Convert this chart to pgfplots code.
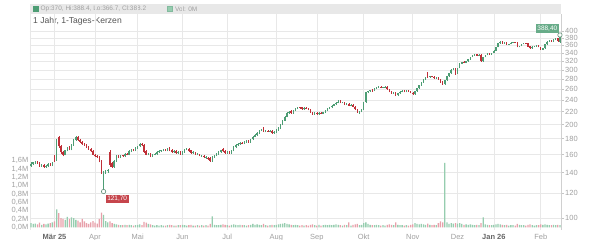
\documentclass[border=0pt]{standalone}
\usepackage{fontspec}
\setmainfont{Liberation Sans}
\usepackage{pgfplots}
\pgfplotsset{compat=1.18}
\usepackage{pgfplotstable}
\definecolor{cup}{RGB}{77,157,116}
\definecolor{cdn}{RGB}{192,48,56}
\definecolor{vup}{RGB}{150,205,175}
\definecolor{vdn}{RGB}{232,160,170}
\definecolor{gridc}{RGB}{232,232,232}
\definecolor{tickc}{RGB}{160,160,160}
\definecolor{bandc}{RGB}{232,232,232}
\definecolor{titc}{RGB}{85,85,85}
\pgfplotstableread{
i o h l c v
0 147 151 146 149 0.10
1 149 152 148 151 0.08
2 151 153 149 152 0.09
3 152 153 149 150 0.07
4 150 151 146 147 0.11
5 147 149 146 148 0.06
6 148 149 145 146 0.08
7 146 148 145 147 0.07
8 147 150 146 149 0.09
9 149 150 147 148 0.10
10 148 151 147 150 0.12
11 158 160 152 153 0.14
12 154 179 153 178 0.43
13 182 184 168 170 0.34
14 170 172 161 163 0.22
15 163 164 158 160 0.20
16 160 166 159 165 0.18
17 165 169 164 168 0.25
18 170 171 165 166 0.20
19 166 173 165 172 0.24
20 172 179 171 178 0.22
21 178 184 177 182 0.18
22 183 184 177 178 0.16
23 178 179 175 176 0.12
24 176 177 172 173 0.20
25 173 174 171 172 0.14
26 172 173 168 169 0.10
27 169 170 166 167 0.08
28 167 168 163 164 0.12
29 164 165 159 160 0.15
30 160 161 157 158 0.11
31 158 160 156 157 0.09
32 157 158 151 152 0.20
33 153 154 139 140 0.35
34 134 142 121.7 140 0.30
35 140 143 139 142 0.15
36 142 144 140 143 0.12
37 163 165 146 148 0.14
38 150 151 145 146 0.10
39 146 154 145 153 0.08
40 153 159 152 158 0.07
41 158 159 156 157 0.06
42 157 160 156 159 0.05
43 159 160 157 158 0.05
44 158 162 157 161 0.06
45 161 162 159 160 0.05
46 160 165 159 164 0.06
47 164 167 163 166 0.05
48 166 167 164 165 0.04
49 165 169 164 168 0.05
50 168 171 167 170 0.06
51 170 174 169 173 0.07
52 173 174 171 172 0.05
53 172 173 162 163 0.13
54 164 165 159 160 0.11
55 160 162 159 161 0.08
56 161 162 157 158 0.07
57 158 161 157 160 0.05
58 160 162 159 161 0.04
59 161 164 160 163 0.05
60 163 165 162 164 0.04
61 164 166 163 165 0.05
62 165 167 164 166 0.04
63 166 167 164 165 0.04
64 165 168 164 167 0.05
65 168 169 164 165 0.06
66 166 167 162 163 0.05
67 163 165 162 164 0.04
68 164 165 161 162 0.04
69 162 164 161 163 0.05
70 163 164 160 161 0.05
71 161 164 160 163 0.06
72 163 167 162 166 0.05
73 166 168 165 167 0.04
74 167 168 163 164 0.05
75 165 166 161 162 0.06
76 162 164 161 163 0.04
77 162 163 160 161 0.04
78 160 162 159 161 0.05
79 160 161 158 159 0.04
80 158 160 157 159 0.05
81 158 159 156 157 0.04
82 156 158 155 157 0.05
83 156 157 154 155 0.04
84 156 157 152 153 0.08
85 153 158 152 157 0.26
86 157 160 156 159 0.06
87 159 162 158 161 0.05
88 161 164 160 163 0.05
89 163 166 162 165 0.06
90 167 168 163 164 0.07
91 164 165 161 162 0.06
92 162 164 161 163 0.05
93 163 164 161 162 0.04
94 162 166 161 165 0.06
95 165 170 164 169 0.07
96 169 173 168 172 0.06
97 172 174 171 173 0.05
98 173 176 172 175 0.06
99 175 176 173 174 0.05
100 174 177 173 176 0.05
101 176 178 175 177 0.04
102 177 178 175 176 0.05
103 176 180 175 179 0.06
104 179 184 178 183 0.08
105 183 186 182 185 0.06
106 185 189 184 188 0.07
107 188 192 187 191 0.06
108 191 194 190 193 0.05
109 195 197 189 190 0.08
110 190 192 189 191 0.05
111 191 192 189 190 0.04
112 190 192 189 191 0.05
113 191 192 187 188 0.06
114 188 190 187 189 0.05
115 189 193 188 192 0.06
116 192 196 191 195 0.07
117 195 201 194 200 0.08
118 200 207 199 206 0.09
119 206 213 205 212 0.10
120 212 219 211 218 0.08
121 218 221 216 220 0.07
122 221 222 217 218 0.06
123 218 223 217 222 0.05
124 222 226 221 225 0.06
125 225 228 224 227 0.05
126 227 228 225 226 0.04
127 227 228 223 224 0.05
128 224 227 223 226 0.04
129 226 227 224 225 0.05
130 225 226 222 223 0.04
131 224 225 218 219 0.06
132 219 220 215 216 0.07
133 216 219 215 218 0.05
134 218 219 215 216 0.04
135 216 219 215 218 0.06
136 218 219 216 217 0.04
137 217 220 216 219 0.05
138 219 223 218 222 0.06
139 222 226 221 225 0.05
140 225 228 224 227 0.06
141 227 231 226 230 0.05
142 230 233 229 232 0.06
143 232 236 231 235 0.07
144 235 239 234 237 0.06
145 238 239 234 235 0.05
146 235 237 234 236 0.04
147 236 237 231 232 0.06
148 232 234 231 233 0.05
149 233 234 229 230 0.12
150 230 232 229 231 0.04
151 231 232 227 228 0.06
152 228 229 223 224 0.07
153 224 225 218 219 0.08
154 219 221 217 220 0.05
155 220 225 219 224 0.06
156 224 237 223 236 0.10
157 236 255 235 254 0.12
158 254 257 252 256 0.08
159 256 259 255 258 0.06
160 259 260 255 257 0.05
161 257 262 256 261 0.05
162 261 264 260 263 0.06
163 263 266 262 265 0.05
164 265 266 262 263 0.04
165 263 265 262 264 0.05
166 264 267 263 265 0.04
167 265 266 259 260 0.06
168 260 261 254 255 0.07
169 255 256 251 252 0.06
170 252 255 251 254 0.05
171 254 255 247 248 0.12
172 248 253 247 252 0.06
173 252 256 251 255 0.05
174 255 258 254 257 0.05
175 257 258 254 255 0.04
176 255 259 254 258 0.05
177 258 259 255 256 0.04
178 256 257 252 253 0.06
179 253 254 249 250 0.07
180 250 257 249 256 0.10
181 256 263 255 262 0.08
182 262 269 261 268 0.07
183 268 275 267 274 0.08
184 274 280 273 279 0.07
185 279 284 278 283 0.06
186 290 296 283 284 0.09
187 284 287 283 286 0.06
188 286 287 284 285 0.05
189 285 286 281 282 0.06
190 282 284 281 283 0.05
191 283 284 279 280 0.10
192 280 281 273 274 0.14
193 276 277 269 270 0.12
194 270 279 269 278 1.55
195 278 287 277 286 0.12
196 286 293 285 292 0.08
197 292 301 291 300 0.10
198 300 303 299 301 0.09
199 302 304 289 290 0.10
200 292 305 291 304 0.09
201 304 315 303 314 0.10
202 314 319 313 318 0.08
203 318 320 315 316 0.06
204 316 321 315 320 0.07
205 320 325 319 324 0.06
206 324 331 323 330 0.07
207 330 336 329 335 0.06
208 335 338 334 336 0.05
209 337 338 332 333 0.06
210 333 337 332 336 0.05
211 336 337 318 320 0.10
212 320 331 319 330 0.24
213 330 336 329 335 0.07
214 335 339 334 338 0.06
215 338 339 335 336 0.05
216 336 341 335 340 0.05
217 340 347 339 346 0.06
218 346 356 345 355 0.07
219 355 366 354 365 0.08
220 365 372 364 370 0.07
221 370 371 364 365 0.06
222 365 368 364 367 0.05
223 367 368 361 362 0.06
224 362 364 361 363 0.04
225 363 368 362 367 0.05
226 367 370 366 369 0.05
227 369 370 366 367 0.04
228 368 369 354 355 0.08
229 355 359 354 358 0.06
230 358 364 357 363 0.05
231 363 367 362 366 0.05
232 366 367 364 365 0.04
233 365 366 355 356 0.06
234 357 358 351 352 0.07
235 352 357 351 356 0.05
236 356 358 355 357 0.04
237 357 361 356 360 0.05
238 360 361 354 355 0.05
239 355 356 347 348 0.07
240 348 353 347 352 0.06
241 352 363 351 362 0.07
242 362 371 361 370 0.06
243 370 374 369 373 0.05
244 374 375 369 370 0.05
245 370 377 369 376 0.06
246 376 381 375 380 0.05
247 380 381 370 371 0.06
248 370 388.4 366.7 388.2 0.05
}\ohlc
\begin{document}
\begin{tikzpicture}
\useasboundingbox (0bp,0bp) rectangle (600bp,240bp);
\fill[white] (0bp,0bp) rectangle (600bp,240bp);
\fill[bandc] (30bp,226bp) rectangle (561bp,236bp);
\fill[cup] (33bp,228.2bp) rectangle (38.5bp,233.7bp);
\node[anchor=west, inner sep=0pt, text=tickc, font=\fontsize{6.5}{7}\selectfont] at (40.5bp,231bp) {Op:370, Hi:388.4, Lo:366.7, Cl:388.2};
\filldraw[fill=vup, draw=cup!70, line width=0.4bp] (167.5bp,228.5bp) rectangle (172.5bp,233.5bp);
\node[anchor=west, inner sep=0pt, text=tickc, font=\fontsize{6.5}{7}\selectfont] at (175bp,231bp) {Vol: 0M};
\node[anchor=west, inner sep=0pt, text=titc, font=\fontsize{8.6}{10}\selectfont] at (33bp,219bp) {1 Jahr, 1-Tages-Kerzen};
% price axis
\begin{axis}[at={(30bp,10bp)}, anchor=south west, scale only axis,
  width=531bp, height=226bp,
  xmin=-0.5, xmax=248.5, ymode=log, ymin=91.5, ymax=488.7,
  axis line style={draw=none},
  grid=major, grid style={gridc, line width=0.6bp},
  xtick={11,30,50,71,92,115,134,156,179,200,217,239},
  xticklabels={{\textbf{\color{titc!90}Mär 25}},Apr,Mai,Jun,Jul,Aug,Sep,Okt,Nov,Dez,{\textbf{\color{titc!90}Jan 26}},Feb},
  xtick style={draw=none},
  xticklabel style={font=\fontsize{7.5}{9}\selectfont, text=tickc, inner sep=1bp},
  ytick={100,120,140,160,180,200,220,240,260,280,300,320,340,360,380,400},
  yticklabels={100,120,140,160,180,200,220,240,260,280,300,320,340,360,380,400},
  ytick pos=right, yticklabel pos=right,
  tick align=outside, major tick length=3bp,
  ytick style={tickc!60, line width=0.5bp},
  yticklabel style={font=\fontsize{7.5}{9}\selectfont, text=tickc, inner sep=1bp},
  clip=false]
\draw[tickc!50, line width=0.6bp] (rel axis cs:1,0) -- (rel axis cs:1,0.956);
\draw[gridc, line width=0.6bp] (rel axis cs:0,0) -- (rel axis cs:0,1);
% wicks
\addplot[forget plot, draw=none, mark=none, error bars/.cd, y dir=plus, y explicit, error mark=none,
  error bar style={draw=cup, line width=0.5bp}]
  table[x expr={\thisrow{c}>=\thisrow{o} ? \thisrow{i} : nan}, y=l, y error expr={\thisrow{h}-\thisrow{l}}] {\ohlc};
\addplot[forget plot, draw=none, mark=none, error bars/.cd, y dir=plus, y explicit, error mark=none,
  error bar style={draw=cdn, line width=0.5bp}]
  table[x expr={\thisrow{c}<\thisrow{o} ? \thisrow{i} : nan}, y=l, y error expr={\thisrow{h}-\thisrow{l}}] {\ohlc};
% bodies
\addplot[forget plot, draw=none, mark=none, error bars/.cd, y dir=plus, y explicit, error mark=none,
  error bar style={draw=cup, line width=1.5bp}]
  table[x expr={\thisrow{c}>=\thisrow{o} ? \thisrow{i} : nan}, y=o, y error expr={max(\thisrow{c}-\thisrow{o},0.6)}] {\ohlc};
\addplot[forget plot, draw=none, mark=none, error bars/.cd, y dir=plus, y explicit, error mark=none,
  error bar style={draw=cdn, line width=1.5bp}]
  table[x expr={\thisrow{c}<\thisrow{o} ? \thisrow{i} : nan}, y=c, y error expr={max(\thisrow{o}-\thisrow{c},0.6)}] {\ohlc};
\addplot[forget plot, only marks, mark=*, mark size=2.2bp, mark options={fill=white, draw=cup!60!gray, line width=0.6bp}]
  coordinates {(34,121.7) (248,388.4)};
\node[fill=cup!85!white, text=white, font=\fontsize{6.5}{7}\selectfont, inner sep=1.5bp, anchor=south east, xshift=-1bp, yshift=2bp] at (axis cs:248,388.4) {388,40};
\node[fill=cdn!90!white, text=white, font=\fontsize{6.5}{7}\selectfont, inner sep=1.5bp, anchor=north west, xshift=2bp, yshift=-3bp] at (axis cs:34,121.7) {121,70};
\end{axis}
% volume axis
\begin{axis}[at={(30bp,10bp)}, anchor=south west, scale only axis,
  width=531bp, height=226bp,
  xmin=-0.5, xmax=248.5, ymin=-0.065, ymax=5.368,
  axis line style={draw=none}, xtick=\empty,
  ytick={0,0.2,0.4,0.6,0.8,1.0,1.2,1.4,1.6},
  yticklabels={{0,0M},{0,2M},{0,4M},{0,6M},{0,8M},{1,0M},{1,2M},{1,4M},{1,6M}},
  major tick length=0pt,
  yticklabel style={font=\fontsize{7.5}{9}\selectfont, text=tickc, inner sep=1.5bp}]
\addplot[ybar, bar width=1.3bp, bar shift=0pt, fill=vup, draw=none]
  table[x expr={\thisrow{c}>=\thisrow{o} ? \thisrow{i} : nan}, y=v] {\ohlc};
\addplot[ybar, bar width=1.3bp, bar shift=0pt, fill=vdn, draw=none]
  table[x expr={\thisrow{c}<\thisrow{o} ? \thisrow{i} : nan}, y=v] {\ohlc};
\end{axis}
\end{tikzpicture}
\end{document}
